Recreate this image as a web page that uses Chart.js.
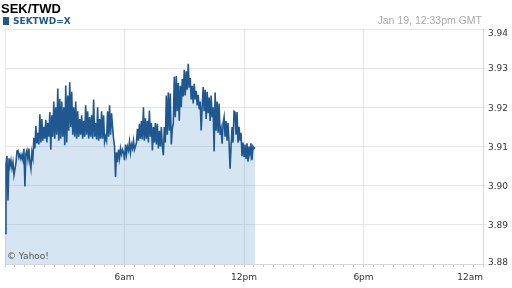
<!DOCTYPE html>
<html>
<head>
<meta charset="utf-8">
<script src="https://cdn.jsdelivr.net/npm/chart.js@4.4.1/dist/chart.umd.min.js"></script>
<style>
    html, body { margin: 0; padding: 0; background: #fff; }
    #wrap { position: relative; width: 512px; height: 288px; }
</style>
</head>
<body>
<div id="wrap"><canvas id="fxChart" width="512" height="288"></canvas></div>
<script>
// one quote every 3 minutes, one array per hour (GMT)
const h00 = [3.8878, 3.9053, 3.9076, 3.8962, 3.9070, 3.9050, 3.9065, 3.9045, 3.9060, 3.9027, 3.9042, 3.9058, 3.9088, 3.9090, 3.9072, 3.9080, 3.9068, 3.9078, 3.9066, 3.9094];
const h01 = [3.8998, 3.9082, 3.9090, 3.9068, 3.9095, 3.9060, 3.9043, 3.9085, 3.9070, 3.9122, 3.9095, 3.9152, 3.9108, 3.9135, 3.9105, 3.9182, 3.9110, 3.9170, 3.9115, 3.9150];
const h02 = [3.9120, 3.9168, 3.9110, 3.9160, 3.9125, 3.9188, 3.9092, 3.9180, 3.9125, 3.9215, 3.9120, 3.9200, 3.9130, 3.9248, 3.9115, 3.9222, 3.9120, 3.9215, 3.9125, 3.9200];
const h03 = [3.9103, 3.9256, 3.9110, 3.9230, 3.9140, 3.9264, 3.9150, 3.9240, 3.9130, 3.9200, 3.9125, 3.9215, 3.9120, 3.9190, 3.9125, 3.9170, 3.9130, 3.9180, 3.9120, 3.9165];
const h04 = [3.9125, 3.9205, 3.9130, 3.9190, 3.9120, 3.9175, 3.9125, 3.9180, 3.9120, 3.9220, 3.9125, 3.9160, 3.9118, 3.9200, 3.9115, 3.9170, 3.9120, 3.9190, 3.9120, 3.9180];
const h05 = [3.9112, 3.9125, 3.9115, 3.9190, 3.9125, 3.9205, 3.9130, 3.9185, 3.9150, 3.9120, 3.9100, 3.9022, 3.9085, 3.9060, 3.9092, 3.9070, 3.9095, 3.9080, 3.9092, 3.9085];
const h06 = [3.9065, 3.9105, 3.9080, 3.9100, 3.9090, 3.9112, 3.9085, 3.9105, 3.9095, 3.9115, 3.9092, 3.9100, 3.9110, 3.9145, 3.9115, 3.9158, 3.9120, 3.9165, 3.9118, 3.9200];
const h07 = [3.9115, 3.9172, 3.9120, 3.9165, 3.9110, 3.9192, 3.9125, 3.9160, 3.9090, 3.9150, 3.9110, 3.9160, 3.9105, 3.9158, 3.9095, 3.9140, 3.9100, 3.9150, 3.9100, 3.9078];
const h08 = [3.9150, 3.9110, 3.9230, 3.9130, 3.9238, 3.9140, 3.9235, 3.9105, 3.9145, 3.9160, 3.9278, 3.9175, 3.9280, 3.9190, 3.9262, 3.9166, 3.9255, 3.9200, 3.9272, 3.9228];
const h09 = [3.9296, 3.9230, 3.9292, 3.9245, 3.9311, 3.9250, 3.9275, 3.9220, 3.9255, 3.9210, 3.9260, 3.9220, 3.9242, 3.9205, 3.9232, 3.9195, 3.9215, 3.9141, 3.9200, 3.9252];
const h10 = [3.9190, 3.9245, 3.9170, 3.9240, 3.9185, 3.9225, 3.9165, 3.9230, 3.9175, 3.9200, 3.9087, 3.9238, 3.9140, 3.9215, 3.9135, 3.9210, 3.9130, 3.9145, 3.9107, 3.9160];
const h11 = [3.9175, 3.9125, 3.9165, 3.9115, 3.9160, 3.9110, 3.9043, 3.9100, 3.9150, 3.9110, 3.9190, 3.9188, 3.9130, 3.9188, 3.9110, 3.9150, 3.9115, 3.9135, 3.9075, 3.9110];
const h12 = [3.9075, 3.9105, 3.9068, 3.9108, 3.9061, 3.9100, 3.9080, 3.9108, 3.9065, 3.9100, 3.9095, 3.9098];

const hours = [h00, h01, h02, h03, h04, h05, h06, h07, h08, h09, h10, h11, h12];
const stepMinutes = 3;

const xTickMinutes = [360, 720, 1080, 1440];
const xTickLabels = ['6am', '12pm', '6pm', '12am'];
const yTicks = [3.88, 3.89, 3.90, 3.91, 3.92, 3.93, 3.94];

const pairTitle = 'SEK/TWD';
const seriesName = 'SEKTWD=X';
const stampText = 'Jan 19, 12:33pm GMT';
const creditText = '\u00a9 Yahoo!';

const lineColor = '#1f5890';
const gridColor = '#e6e6e6';

// minutes since midnight -> price
const points = [];
hours.forEach((list, h) => {
    list.forEach((v, j) => {
        points.push({ x: h * 60 + j * stepMinutes, y: v });
    });
});

// texts around the plot and the right hand price labels
const overlayText = {
    id: 'overlayText',
    afterDraw(chart) {
        const ctx = chart.ctx;
        const area = chart.chartArea;
        const yScale = chart.scales.y;
        ctx.save();
        ctx.textBaseline = 'alphabetic';
        ctx.textAlign = 'left';

        ctx.fillStyle = '#000';
        ctx.font = 'bold 13px "Liberation Sans", Arial, sans-serif';
        ctx.fillText(pairTitle, 1, 13);

        ctx.fillStyle = lineColor;
        ctx.fillRect(3, 17, 6, 8);
        ctx.font = 'bold 9px "DejaVu Sans", sans-serif';
        ctx.fillText(seriesName, 13, 24);

        ctx.fillStyle = '#aaaaaa';
        ctx.font = '10.5px "Liberation Sans", Arial, sans-serif';
        ctx.textAlign = 'right';
        ctx.fillText(stampText, 482, 24);

        ctx.textAlign = 'left';
        ctx.font = '9px "DejaVu Sans", sans-serif';
        ctx.fillStyle = '#333';
        yTicks.forEach(v => {
            let base = yScale.getPixelForValue(v) + 3.3;
            base = Math.max(area.top + 7.3, Math.min(area.bottom + 1, base));
            ctx.fillText(v.toFixed(2), area.right + 5, base);
        });

        ctx.fillStyle = '#555';
        ctx.fillText(creditText, 7, 258.5);
        ctx.restore();
    }
};

const ctx = document.getElementById('fxChart').getContext('2d');
new Chart(ctx, {
    type: 'line',
    data: {
        datasets: [{
            label: seriesName,
            data: points,
            borderColor: lineColor,
            borderWidth: 1.6,
            backgroundColor: 'rgba(100, 160, 205, 0.27)',
            fill: 'start',
            pointRadius: 0,
            tension: 0
        }]
    },
    options: {
        responsive: false,
        animation: false,
        devicePixelRatio: 1,
        layout: { padding: { left: 3, top: 29, right: 0, bottom: 0 } },
        plugins: {
            legend: { display: false },
            title: { display: false },
            tooltip: { enabled: false }
        },
        scales: {
            x: {
                type: 'linear',
                position: 'bottom',
                min: 0,
                max: 1440,
                afterFit: scale => { scale.height = 24; },
                ticks: {
                    stepSize: 30,
                    autoSkip: false,
                    maxRotation: 0,
                    minRotation: 0,
                    align: 'inner',
                    padding: 5,
                    color: '#333',
                    font: { family: '"DejaVu Sans", sans-serif', size: 9 },
                    callback: v => {
                        const k = xTickMinutes.indexOf(v);
                        return k >= 0 ? xTickLabels[k] : '';
                    }
                },
                grid: {
                    color: c => (c.tick && c.tick.value % 360 === 0) ? gridColor : 'rgba(0,0,0,0)',
                    tickColor: '#cccccc',
                    tickLength: 3
                },
                border: { display: true, color: '#d8d8d8' }
            },
            y: {
                position: 'right',
                min: 3.88,
                max: 3.94,
                afterFit: scale => { scale.width = 29; },
                ticks: { stepSize: 0.01, display: false },
                grid: {
                    color: gridColor,
                    tickColor: gridColor,
                    tickLength: 3
                },
                border: { display: true, color: '#d8d8d8' }
            }
        }
    },
    plugins: [overlayText]
});
</script>
</body>
</html>
